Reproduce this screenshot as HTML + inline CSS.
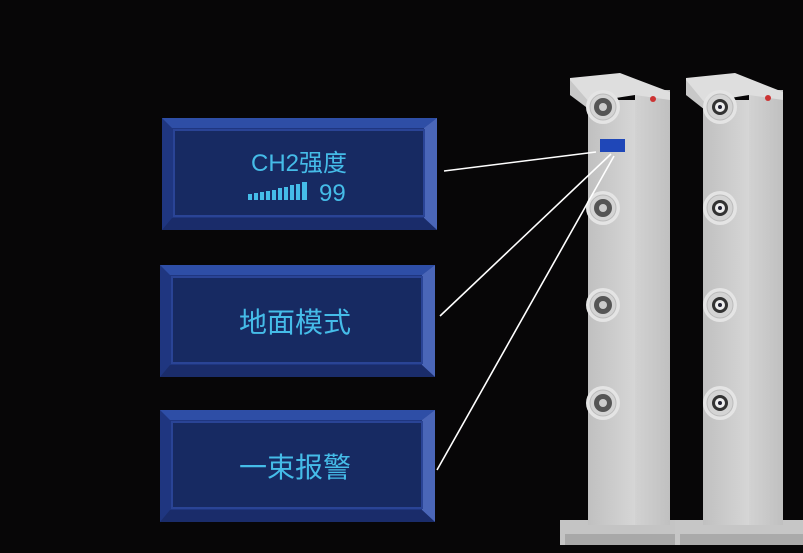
<!DOCTYPE html>
<html><head><meta charset="utf-8"><style>
body{margin:0;background:#070607;width:803px;height:553px;overflow:hidden}
svg{display:block}
text{font-family:"Liberation Sans","Noto Sans CJK SC",sans-serif;fill:#45bce8}
</style></head><body>
<svg width="803" height="553" viewBox="0 0 803 553">
<defs>
<linearGradient id="side" x1="0" x2="1"><stop offset="0" stop-color="#d2d2d2"/><stop offset="1" stop-color="#c0c0c0"/></linearGradient>
<linearGradient id="front" x1="0" x2="1"><stop offset="0" stop-color="#c0c0c0"/><stop offset="1" stop-color="#d6d6d6"/></linearGradient>
<g id="box">
<polygon points="0,0 275,0 275,112 0,112" fill="#1f3680"/>
<polygon points="0,0 275,0 262,10 10,10" fill="#2e4ea6"/>
<polygon points="262,10 275,0 275,112 262,100" fill="#4a66b8"/>
<polygon points="0,112 275,112 262,100 10,100" fill="#1a2c6a"/>
<rect x="12" y="12" width="250" height="86" fill="#172a62" stroke="#2a4496" stroke-width="2"/>
</g>
<g id="lens1"><circle r="17" fill="#e4e4e4"/><circle r="13" fill="#d4d4d4" stroke="#bbb"/><circle r="9" fill="#555"/><circle r="4" fill="#ccc"/></g>
<g id="lens2"><circle r="17" fill="#e4e4e4"/><circle r="13" fill="#d4d4d4" stroke="#bbb"/><circle r="8" fill="#333"/><circle r="5" fill="#eee"/><circle r="2" fill="#223"/></g>
</defs>
<!-- post 1 -->
<polygon points="560,520 700,520 700,545 560,545" fill="#c4c4c4"/>
<rect x="565" y="534" width="130" height="11" fill="#a8a8a8"/>
<rect x="588" y="100" width="47" height="425" fill="url(#front)"/>
<rect x="635" y="90" width="35" height="435" fill="url(#side)"/>
<polygon points="570,78 620,73 670,92 670,100 635,95 590,102 570,95" fill="#dedede"/>
<polygon points="570,80 590,103 590,110 570,95" fill="#c8c8c8"/>
<circle cx="653" cy="99" r="3" fill="#c33"/>
<rect x="600" y="139" width="25" height="13" fill="#1f47b8"/>
<use href="#lens1" x="603" y="107"/><use href="#lens1" x="603" y="208"/><use href="#lens1" x="603" y="305"/><use href="#lens1" x="603" y="403"/>
<!-- post 2 -->
<polygon points="675,520 803,520 803,545 675,545" fill="#c6c6c6"/>
<rect x="680" y="534" width="123" height="11" fill="#aaaaaa"/>
<rect x="703" y="100" width="46" height="425" fill="url(#front)"/>
<rect x="749" y="90" width="34" height="435" fill="url(#side)"/>
<polygon points="686,78 735,73 783,92 783,100 749,95 705,102 686,95" fill="#dedede"/>
<polygon points="686,80 705,103 705,110 686,95" fill="#c8c8c8"/>
<circle cx="768" cy="98" r="3" fill="#c33"/>
<use href="#lens2" x="720" y="107"/><use href="#lens2" x="720" y="208"/><use href="#lens2" x="720" y="305"/><use href="#lens2" x="720" y="403"/>
<!-- boxes -->
<use href="#box" x="162" y="118"/>
<use href="#box" x="160" y="265"/>
<use href="#box" x="160" y="410"/>
<text x="299" y="171" font-size="24" text-anchor="middle">CH2强度</text>
<g fill="#45bce8">
<rect x="248" y="194" width="4" height="6"/><rect x="254" y="193" width="4" height="7"/><rect x="260" y="192" width="4" height="8"/><rect x="266" y="191" width="4" height="9"/><rect x="272" y="190" width="4" height="10"/><rect x="278" y="188" width="4" height="12"/><rect x="284" y="187" width="4" height="13"/><rect x="290" y="185" width="4" height="15"/><rect x="296" y="184" width="4" height="16"/><rect x="302" y="182" width="5" height="18"/>
</g>
<text x="319" y="201" font-size="24">99</text>
<text x="295" y="332" font-size="28" text-anchor="middle">地面模式</text>
<text x="295" y="477" font-size="28" text-anchor="middle">一束报警</text>
<!-- lines -->
<g stroke="#fff" stroke-width="1.6">
<line x1="444" y1="171" x2="596" y2="152"/>
<line x1="440" y1="316" x2="611" y2="154"/>
<line x1="437" y1="470" x2="614" y2="156"/>
</g>
</svg>
</body></html>
